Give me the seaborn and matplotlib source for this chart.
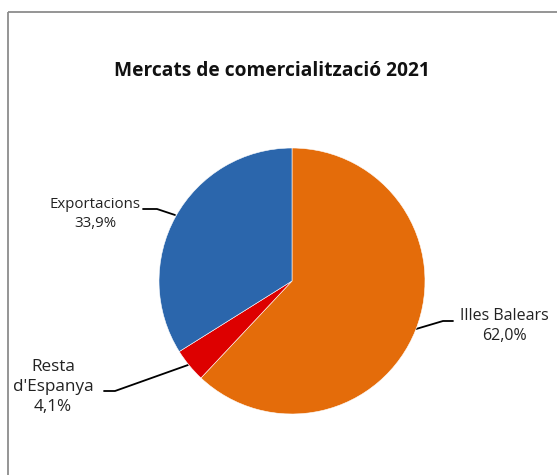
import matplotlib
matplotlib.use("Agg")
import matplotlib.pyplot as plt
import seaborn as sns
from matplotlib.patches import Rectangle

# dades
categories = ["Illes Balears", "Resta\nd'Espanya", "Exportacions"]
values = [62.0, 4.1, 33.9]
pct_labels = ["62,0%", "4,1%", "33,9%"]
title = "Mercats de comercialització 2021"

sns.set_style("white")
plt.rcParams["font.family"] = ["Open Sans", "DejaVu Sans"]
palette = sns.color_palette(["#E46C0A", "#DD0000", "#2B66AC"])

W, H = 557, 475
fig = plt.figure(figsize=(W / 100, H / 100), dpi=100)
ax = fig.add_axes([0, 0, 1, 1])
ax.set_xlim(0, W)
ax.set_ylim(H, 0)
ax.axis("off")

# marc gris del gràfic
ax.add_patch(Rectangle((8, 12), 600, 500, fill=False, edgecolor="#8c8c8c", lw=1.3))

ax.text(272, 71, title, ha="center", va="center", fontsize=13.8, fontweight="bold", color="#111111")

# pastís en una subaxes amb coordenades pròpies
cx, cy, r = 292, 281, 133
pax = fig.add_axes([(cx - r) / W, 1 - (cy + r) / H, 2 * r / W, 2 * r / H])
wedges, _ = pax.pie(values, colors=palette, startangle=90, counterclock=False,
                    wedgeprops=dict(edgecolor="white", linewidth=0.4))
pax.set_xlim(-1, 1)
pax.set_ylim(-1, 1)
pax.set_aspect("equal")

# etiquetes amb línies guia
lab = [
    dict(txt=(504, 326), size=11.5, ls=1.4, line=[(416, 329), (443, 321), (453, 321)]),
    dict(txt=(53, 387), size=12.3, ls=1.3, line=[(188, 365), (115, 391), (104, 391)]),
    dict(txt=(95, 214), size=10.8, ls=1.35, line=[(175, 215), (157, 209), (143, 209)]),
]
for name, pct, opt in zip(categories, pct_labels, lab):
    xs, ys = zip(*opt["line"])
    ax.plot(xs, ys, color="black", lw=1.3, zorder=5)
    ax.text(*opt["txt"], f"{name}\n{pct}", ha="center", va="center",
            fontsize=opt["size"], color="#222222", linespacing=opt["ls"])

fig.savefig("out.png", dpi=100)
